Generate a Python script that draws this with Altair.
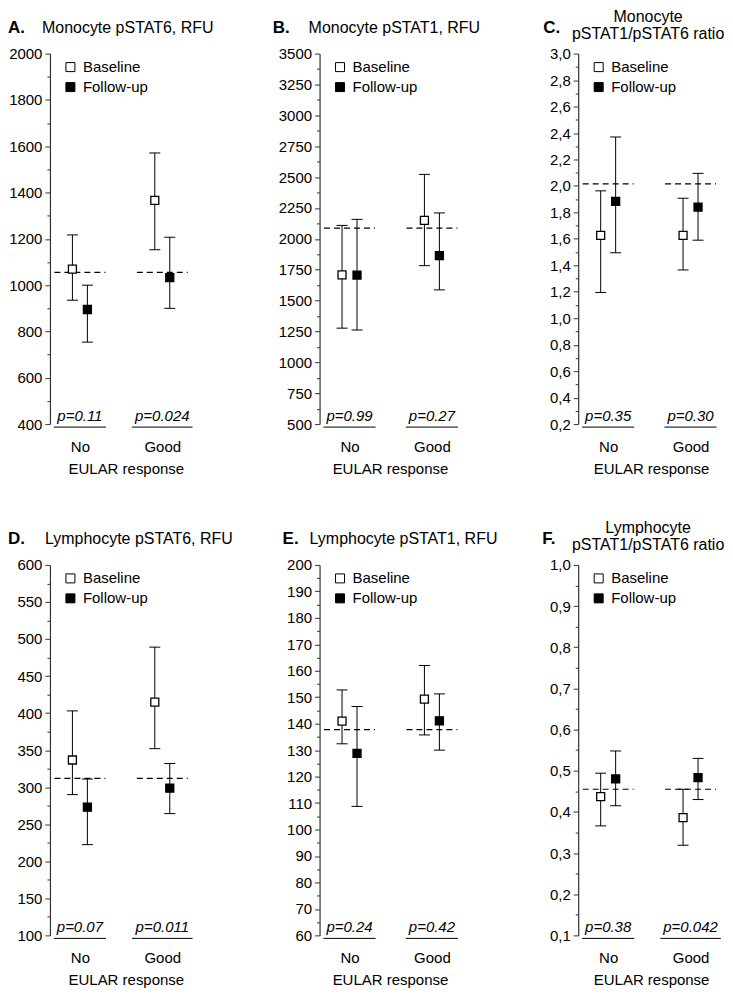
import altair as alt
import pandas as pd
import numpy as np

# ---------------- data ----------------
groups = ["No", "Good"]
series = ["Baseline", "Follow-up"]

# order of values: Baseline-No, Follow-up-No, Baseline-Good, Follow-up-Good
A_mean = [1069, 895, 1366, 1033]
A_low = [935, 754, 1153, 900]
A_high = [1217, 1000, 1571, 1207]
A_ref = 1055
A_p = ["p=0.11", "p=0.024"]

B_mean = [1709, 1707, 2149, 1864]
B_low = [1277, 1262, 1783, 1587]
B_high = [2109, 2158, 2522, 2210]
B_ref = 2087
B_p = ["p=0.99", "p=0.27"]

C_mean = [1.627, 1.883, 1.627, 1.840]
C_low = [1.195, 1.495, 1.365, 1.590]
C_high = [1.963, 2.370, 1.907, 2.095]
C_ref = 2.015
C_p = ["p=0.35", "p=0.30"]

D_mean = [336.7, 273.0, 414.7, 298.7]
D_low = [290.0, 222.5, 352.0, 264.4]
D_high = [403.0, 311.0, 489.0, 332.0]
D_ref = 312
D_p = ["p=0.07", "p=0.011"]

E_mean = [141.0, 128.75, 149.25, 141.1]
E_low = [132.4, 108.75, 135.75, 130.0]
E_high = [152.75, 146.5, 162.0, 151.25]
E_ref = 137.75
E_p = ["p=0.24", "p=0.42"]

F_mean = [0.437, 0.480, 0.386, 0.483]
F_low = [0.366, 0.415, 0.319, 0.430]
F_high = [0.494, 0.548, 0.455, 0.530]
F_ref = 0.455
F_p = ["p=0.38", "p=0.042"]

letters = ["A.", "B.", "C.", "D.", "E.", "F."]
titles = [
    ["Monocyte pSTAT6, RFU"],
    ["Monocyte pSTAT1, RFU"],
    ["Monocyte", "pSTAT1/pSTAT6 ratio"],
    ["Lymphocyte pSTAT6, RFU"],
    ["Lymphocyte pSTAT1, RFU"],
    ["Lymphocyte", "pSTAT1/pSTAT6 ratio"],
]
# y axis: min, max, labelled step, minor step
y_axes = [
    (400, 2000, 200, 100),
    (500, 3500, 250, 125),
    (0.2, 3.0, 0.2, 0.1),
    (100, 600, 50, 25),
    (60, 200, 10, 5),
    (0.1, 1.0, 0.1, 0.05),
]
decimal_comma = [False, False, True, False, False, True]
x_title = "EULAR response"

panels_data = [
    (A_mean, A_low, A_high, A_ref, A_p),
    (B_mean, B_low, B_high, B_ref, B_p),
    (C_mean, C_low, C_high, C_ref, C_p),
    (D_mean, D_low, D_high, D_ref, D_p),
    (E_mean, E_low, E_high, E_ref, E_p),
    (F_mean, F_low, F_high, F_ref, F_p),
]

# ---------------- layout / style ----------------
FONT = "Liberation Sans"
PX = 30.0            # pixels per x unit
H = 371
COL_W = [152, 141, 146]
GROUP_POS = [1.0, 3.75]
SERIES_OFF = [-0.25, 0.25]
REF_HALF = 0.85
FS = 15

# title placement (relative to plot origin)
letter_x = [-42, -47, -35, -42, -37, -36]
text_x = [-8, -11, 70, -5, -10, 70]
TITLE_Y = -21
TWO_LINE_Y = [-32, -15]

CHAR_W = {"p": 0.556, "=": 0.584, ".": 0.278}


def text_width(s, fs):
    return sum(CHAR_W.get(c, 0.556) for c in s) * fs


def make_panel(i):
    mean, low, high, ref, pv = panels_data[i]
    W = COL_W[i % 3]
    ymin, ymax, major, minor = y_axes[i]

    rows = []
    k = 0
    for gi, g in enumerate(groups):
        for si, s in enumerate(series):
            rows.append({"group": g, "series": s,
                         "x": GROUP_POS[gi] + SERIES_OFF[si],
                         "mean": mean[k], "low": low[k], "high": high[k]})
            k += 1
    df = pd.DataFrame(rows)

    df_ref = pd.DataFrame({"x1": [p - REF_HALF for p in GROUP_POS],
                           "x2": [p + REF_HALF for p in GROUP_POS],
                           "ref": [ref, ref]})
    half = [(text_width(t, FS) / 2 + 3) / PX for t in pv]
    df_p = pd.DataFrame({"x": GROUP_POS, "p": pv,
                         "u1": [p - h for p, h in zip(GROUP_POS, half)],
                         "u2": [p + h for p, h in zip(GROUP_POS, half)]})

    n = int(round((ymax - ymin) / minor))
    tick_vals = [round(ymin + j * minor, 6) for j in range(n + 1)]
    test = f"abs(datum.value/{major} - round(datum.value/{major})) < 0.001"
    if decimal_comma[i]:
        lab = f"{test} ? replace(format(datum.value, '.1f'), '.', ',') : ''"
    else:
        lab = f"{test} ? format(datum.value, 'd') : ''"

    mid = (GROUP_POS[0] + GROUP_POS[1]) / 2
    xaxis = alt.Axis(values=GROUP_POS,
                     labelExpr=f"datum.value < {mid} ? '{groups[0]}' : '{groups[1]}'",
                     domain=False, ticks=False, grid=False,
                     labelFontSize=FS, labelPadding=15, labelColor="black",
                     title=x_title, titleFontSize=FS, titleFontWeight="normal",
                     titleColor="black", titlePadding=7, labelFont=FONT, titleFont=FONT)
    yaxis = alt.Axis(values=tick_vals, labelExpr=lab, grid=False,
                     domainColor="#333333", domainWidth=1.2,
                     tickColor="#333333", tickWidth=1,
                     tickSize={"condition": {"test": test, "value": 5}, "value": 3},
                     labelFontSize=FS, labelPadding=3, labelColor="black",
                     labelFont=FONT, title=None)
    xs = alt.Scale(domain=[0, W / PX], nice=False, zero=False)
    ys = alt.Scale(domain=[ymin, ymax], nice=False, zero=False)

    def X(f):
        return alt.X(f"{f}:Q", scale=xs, axis=xaxis)

    def Y(f):
        return alt.Y(f"{f}:Q", scale=ys, axis=yaxis)

    base = alt.Chart(df)
    refl = alt.Chart(df_ref).mark_rule(color="black", strokeWidth=1.2,
                                       strokeDash=[6, 4]).encode(
        x=X("x1"), x2="x2:Q", y=Y("ref"))
    bars = base.mark_rule(color="black", strokeWidth=1).encode(
        x=X("x"), y=Y("low"), y2="high:Q")
    cap_lo = base.mark_tick(orient="horizontal", size=11, thickness=1,
                            color="black", opacity=1).encode(x=X("x"), y=Y("low"))
    cap_hi = base.mark_tick(orient="horizontal", size=11, thickness=1,
                            color="black", opacity=1).encode(x=X("x"), y=Y("high"))
    pts = base.mark_square(size=64, stroke="black", strokeWidth=1.3,
                           opacity=1).encode(
        x=X("x"), y=Y("mean"),
        fill=alt.Fill("series:N",
                      scale=alt.Scale(domain=series, range=["white", "black"]),
                      legend=alt.Legend(orient="none", legendX=13, legendY=6,
                                        title=None, symbolType="square",
                                        symbolSize=81, symbolStrokeColor="black",
                                        symbolStrokeWidth=1, labelFontSize=FS,
                                        labelFont=FONT, labelColor="black",
                                        rowPadding=4, labelOffset=5, padding=0)))
    ptxt = alt.Chart(df_p).mark_text(fontStyle="italic", fontSize=FS, font=FONT,
                                     baseline="alphabetic", align="center",
                                     color="black").encode(
        x=X("x"), y=alt.value(H - 3), text="p:N")
    pline = alt.Chart(df_p).mark_rule(color="black", strokeWidth=1).encode(
        x=X("u1"), x2="u2:Q", y=alt.value(H + 3))

    layers = [refl, bars, cap_lo, cap_hi, pts, ptxt, pline]

    # titles
    lt = alt.Chart(pd.DataFrame({"t": [letters[i]]})).mark_text(
        fontSize=17, fontWeight="bold", font=FONT, align="left",
        baseline="alphabetic", color="black").encode(
        x=alt.value(letter_x[i]), y=alt.value(TITLE_Y), text="t:N")
    layers.append(lt)
    tl = titles[i]
    if len(tl) == 1:
        tt = alt.Chart(pd.DataFrame({"t": tl})).mark_text(
            fontSize=16, font=FONT, align="left", baseline="alphabetic",
            color="black").encode(x=alt.value(text_x[i]), y=alt.value(TITLE_Y), text="t:N")
        layers.append(tt)
    else:
        for line, yy in zip(tl, TWO_LINE_Y):
            tt = alt.Chart(pd.DataFrame({"t": [line]})).mark_text(
                fontSize=16, font=FONT, align="center", baseline="alphabetic",
                color="black").encode(x=alt.value(text_x[i]), y=alt.value(yy), text="t:N")
            layers.append(tt)

    return alt.layer(*layers).properties(width=W, height=H)


panels = [make_panel(i) for i in range(6)]
chart = alt.concat(
    *panels, columns=3, bounds="flush", align="each",
    spacing={"row": 141, "column": 118},
).resolve_scale(fill="independent").resolve_legend(fill="independent").properties(
    padding=0).configure(font=FONT).configure_view(stroke=None)

chart.save("out.html", embed_options={"renderer": "svg", "actions": False})
